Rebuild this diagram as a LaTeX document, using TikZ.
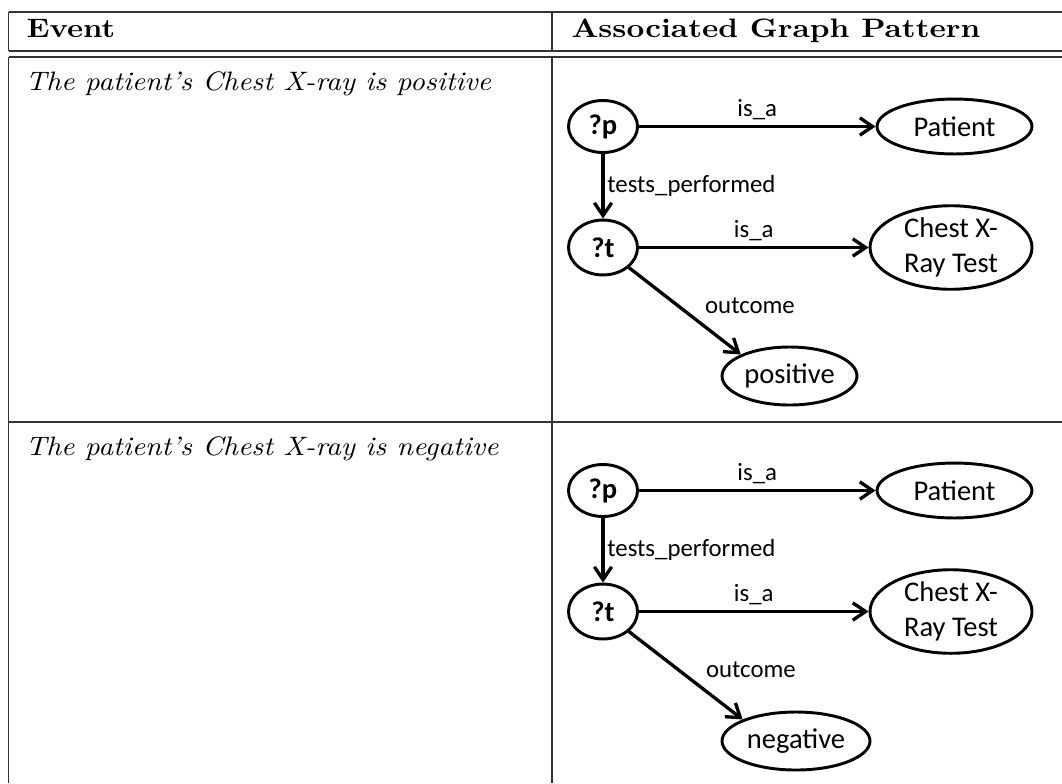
\documentclass[tikz,border=0pt]{standalone}
\usepackage{graphicx}
\usepackage{fontspec}
\newfontfamily\carlito{Carlito}
\usetikzlibrary{arrows.meta,shapes.geometric}
\begin{document}
\begin{tikzpicture}[x=0.375pt,y=-0.375pt,
  rule/.style={line width=0.4pt, black!80},
  tabtext/.style={anchor=base west, inner sep=0pt, font=\fontsize{10}{12}\selectfont},
  gnode/.style={ellipse, draw, line width=1.1pt, inner sep=0pt, align=center,
    font=\carlito\fontsize{10.7}{13}\selectfont},
  vnode/.style={gnode, font=\carlito\bfseries\fontsize{10.7}{13}\selectfont,
    minimum width=25.9pt},
  edge/.style={line width=1.25pt, -{Straight Barb[length=4.8pt,width=6.5pt]}},
  lbl/.style={font=\carlito\fontsize{9.3}{11}\selectfont}
]
\useasboundingbox (0,0) rectangle (1062,783);
% table rules
\draw[rule] (8.5,12) -- (1062,12);
\draw[rule] (8.5,51) -- (1062,51);
\draw[rule] (8.5,57) -- (1062,57);
\draw[rule] (8.5,422) -- (1062,422);
\draw[rule] (8.5,12) -- (8.5,51);
\draw[rule] (8.5,57) -- (8.5,783);
\draw[rule] (552,12) -- (552,51);
\draw[rule] (552,57) -- (552,783);
% table text
\node[tabtext] (h1) at (26,37) {\scalebox{1.14}[1]{\bfseries Event}};
\node[tabtext] (h2) at (571,37) {\scalebox{1.16}[1]{\bfseries Associated Graph Pattern}};
\node[tabtext] (r1) at (25,90) {\scalebox{1.09}[1]{\itshape The patient's Chest X-ray is positive}};
\node[tabtext] (r2) at (25,455) {\scalebox{1.09}[1]{\itshape The patient's Chest X-ray is negative}};
% graph 1
\node[vnode, minimum height=19.5pt] (p1) at (603,126.5) {?p};
\node[gnode, minimum width=58.1pt, minimum height=20.6pt] (P1) at (954.5,126.5) {Patient};
\node[vnode, minimum height=20.6pt] (t1) at (603,247.5) {?t};
\node[gnode, minimum width=60.75pt, minimum height=31.1pt] (C1) at (951,247.5) {Chest X-\\Ray Test};
\node[gnode, minimum width=50.6pt, minimum height=21.75pt] (o1) at (789.5,376) {positive};
\draw[edge] (p1) -- node[lbl, above, inner sep=2pt] {is\_a} (P1);
\draw[edge] (p1) -- node[lbl, right, inner sep=1pt] {tests\_performed} (t1);
\draw[edge] (t1) -- node[lbl, above, inner sep=2pt] {is\_a} (C1);
\draw[edge] (t1) -- node[lbl, anchor=west, inner sep=0pt, xshift=7pt, yshift=2pt] {outcome} (o1.north west);
% graph 2
\node[vnode, minimum height=19.5pt] (p2) at (603,490.5) {?p};
\node[gnode, minimum width=58.1pt, minimum height=20.6pt] (P2) at (954.5,490.5) {Patient};
\node[vnode, minimum height=20.6pt] (t2) at (603,611.5) {?t};
\node[gnode, minimum width=60.75pt, minimum height=31.1pt] (C2) at (951,611.5) {Chest X-\\Ray Test};
\node[gnode, minimum width=55.5pt, minimum height=21.75pt] (o2) at (796,741) {negative};
\draw[edge] (p2) -- node[lbl, above, inner sep=2pt] {is\_a} (P2);
\draw[edge] (p2) -- node[lbl, right, inner sep=1pt] {tests\_performed} (t2);
\draw[edge] (t2) -- node[lbl, above, inner sep=2pt] {is\_a} (C2);
\draw[edge] (t2) -- node[lbl, anchor=west, inner sep=0pt, xshift=7pt, yshift=2pt] {outcome} (o2.north west);
\end{tikzpicture}
\end{document}
